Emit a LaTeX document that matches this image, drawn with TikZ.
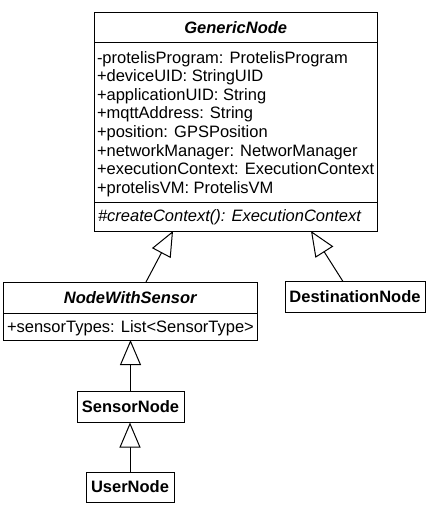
\documentclass[tikz,border=0pt]{standalone}
\usepackage{fontspec}
\setmainfont{Liberation Sans}
\usetikzlibrary{arrows.meta}
\begin{document}
\begin{tikzpicture}[x=1pt,y=-1pt,
  box/.style={draw=black,line width=1pt,fill=white,rectangle,inner sep=0pt,outer sep=0pt,anchor=north west},
  txt/.style={inner sep=0pt,outer sep=0pt,font=\fontsize{16.5}{19}\selectfont},
  attr/.style={txt,anchor=base west},
  title/.style={txt,anchor=base,font=\fontsize{16.5}{19}\selectfont\bfseries\itshape},
  plain/.style={txt,anchor=base,font=\fontsize{16.5}{19}\selectfont\bfseries},
  divider/.style={draw=black,line width=1pt},
  inh/.style={draw=black,line width=1pt,-{Triangle[open,length=25pt,width=21pt,fill=white]}}]
\useasboundingbox (0,0) rectangle (428,506);
% GenericNode
\node[box,minimum width=283.5pt,minimum height=219pt] (gn) at (94,12) {};
\draw[divider] (94,42.5) -- (377.5,42.5);
\draw[divider] (94,202.5) -- (377.5,202.5);
\node[title] (gnt) at (235.75,33.5) {GenericNode};
\node[attr] (a1) at (97,63) {-protelisProgram: ProtelisProgram};
\node[attr] (a2) at (97,81.6) {+deviceUID: StringUID};
\node[attr] (a3) at (97,100.2) {+applicationUID: String};
\node[attr] (a4) at (97,118.8) {+mqttAddress: String};
\node[attr] (a5) at (97,137.4) {+position: GPSPosition};
\node[attr] (a6) at (97,156) {+networkManager: NetworManager};
\node[attr] (a7) at (97,174.6) {+executionContext: ExecutionContext};
\node[attr] (a8) at (97,193.2) {+protelisVM: ProtelisVM};
\node[attr,font=\fontsize{16.5}{19}\selectfont\itshape] (m1) at (98,221.3) {\#createContext(): ExecutionContext};
% NodeWithSensor
\node[box,minimum width=253.5pt,minimum height=58pt] (nws) at (3.5,282) {};
\draw[divider] (3.5,313) -- (257,313);
\node[title] (nwst) at (130.25,303.5) {NodeWithSensor};
\node[attr] (s1) at (7,332) {+sensorTypes: List<SensorType>};
% DestinationNode
\node[box,minimum width=140pt,minimum height=31pt] (dn) at (285,281.5) {};
\node[plain] (dnt) at (355,302.8) {DestinationNode};
% SensorNode
\node[box,minimum width=107pt,minimum height=31pt] (sn) at (77,391.5) {};
\node[plain] (snt) at (130.5,412.8) {SensorNode};
% UserNode
\node[box,minimum width=88pt,minimum height=30pt] (un) at (86,472) {};
\node[plain] (unt) at (130,492.8) {UserNode};
% inheritance arrows
\draw[inh] ([xshift=142.5pt]nws.north west) -- ([xshift=79pt]gn.south west);
\draw[inh] ([xshift=58pt]dn.north west) -- ([xshift=217pt]gn.south west);
\draw[inh] (sn.north) -- (sn.north |- nws.south);
\draw[inh] (un.north) -- (un.north |- sn.south);
\end{tikzpicture}
\end{document}
